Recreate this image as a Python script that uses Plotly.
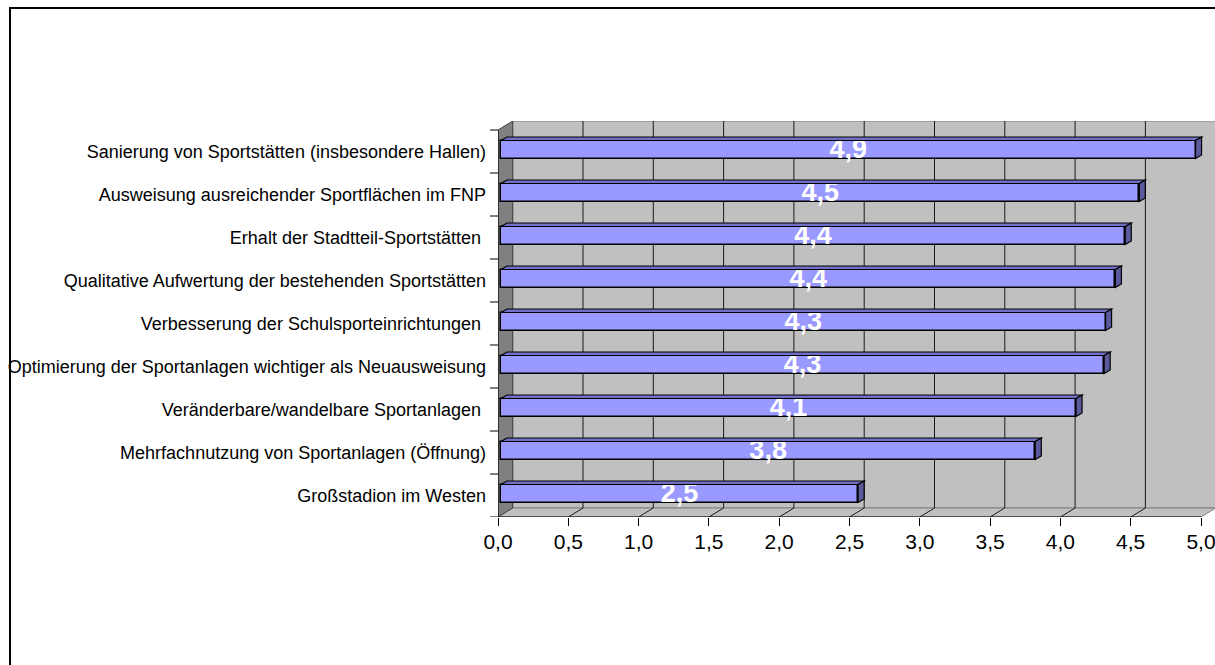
import plotly.graph_objects as go

# ---- data (top to bottom as displayed) ----
categories = [
    "Sanierung von Sportstätten (insbesondere Hallen)",
    "Ausweisung ausreichender Sportflächen im FNP",
    "Erhalt der Stadtteil-Sportstätten\u00a0",
    "Qualitative Aufwertung der bestehenden Sportstätten",
    "Verbesserung der Schulsporteinrichtungen\u00a0",
    "Optimierung der Sportanlagen wichtiger als Neuausweisung",
    "Veränderbare/wandelbare Sportanlagen\u00a0",
    "Mehrfachnutzung von Sportanlagen (Öffnung)",
    "Großstadion im Westen",
]
scores = [4.94, 4.54, 4.44, 4.37, 4.30, 4.29, 4.09, 3.80, 2.54]
x_tick_values = [0.0, 0.5, 1.0, 1.5, 2.0, 2.5, 3.0, 3.5, 4.0, 4.5, 5.0]
x_max_value = 5.0

FONT = "Liberation Sans, Arial, sans-serif"


def de_num(v):
    return f"{v:.1f}".replace(".", ",")


# ---- geometry of the pseudo-3D frame (pixels) ----
W, H = 1215, 665
LEFT, TOP, BOTTOM = 498, 121, 517
PX_PER_UNIT = 140.6
SLOT_PX = 43.0
n = len(categories)

x_range = [0, (W - LEFT) / PX_PER_UNIT]
y_lo = -0.5
y_range = [y_lo, y_lo + (BOTTOM - TOP) / SLOT_PX]
y_hi_front = n - 0.5

dx = 14.7 / PX_PER_UNIT          # depth of the frame, x units
dy = 9.0 / SLOT_PX               # depth of the frame, y units
bar_base = 3.0 / PX_PER_UNIT     # bars sit slightly behind the front plane
bar_h = 18.0 / SLOT_PX
bar_shift = 2.0 / SLOT_PX
bdx = 6.0 / PX_PER_UNIT          # bar depth
bdy = 3.5 / SLOT_PX
label_drop = 2.0 / SLOT_PX       # value labels sit a touch below bar centre

positions = [n - 1 - i for i in range(n)]
bar_centers = [p + bar_shift for p in positions]


def fx(px):
    """pixel column -> paper fraction (paper spans the whole figure)"""
    return px / W


def fy(py):
    """pixel row -> paper fraction"""
    return 1 - py / H


def poly(points):
    return "M " + " L ".join(f"{x},{y}" for x, y in points) + " Z"


shapes = []
# back wall
shapes.append(dict(type="rect", xref="x", yref="y", layer="below",
                   x0=dx, x1=x_max_value + dx, y0=y_lo + dy, y1=y_hi_front + dy,
                   fillcolor="#c0c0c0", line=dict(color="#808080", width=1)))
# floor
shapes.append(dict(type="path", xref="x", yref="y", layer="below",
                   path=poly([(0, y_lo), (x_max_value, y_lo),
                              (x_max_value + dx, y_lo + dy), (dx, y_lo + dy)]),
                   fillcolor="#c0c0c0", line=dict(color="#808080", width=1)))
# left side wall
shapes.append(dict(type="path", xref="x", yref="y", layer="below",
                   path=poly([(0, y_lo), (dx, y_lo + dy),
                              (dx, y_hi_front + dy), (0, y_hi_front)]),
                   fillcolor="#808080", line=dict(color="#404040", width=1)))
# gridlines on back wall and floor
for v in x_tick_values[1:-1]:
    shapes.append(dict(type="line", xref="x", yref="y", layer="below",
                       x0=v + dx, x1=v + dx, y0=y_lo + dy, y1=y_hi_front + dy,
                       line=dict(color="#1a1a1a", width=1)))
    shapes.append(dict(type="line", xref="x", yref="y", layer="below",
                       x0=v, x1=v + dx, y0=y_lo, y1=y_lo + dy,
                       line=dict(color="#1a1a1a", width=1)))
# front axis lines
shapes.append(dict(type="line", xref="x", yref="y", layer="below",
                   x0=0, x1=x_max_value, y0=y_lo, y1=y_lo,
                   line=dict(color="black", width=1)))
shapes.append(dict(type="line", xref="x", yref="y", layer="below",
                   x0=0, x1=0, y0=y_lo, y1=y_hi_front,
                   line=dict(color="black", width=1)))
# category boundary ticks on the left axis
for k in range(n + 1):
    yb = y_lo + k
    shapes.append(dict(type="line", xref="paper", yref="y",
                       x0=fx(LEFT - 8), x1=fx(LEFT), y0=yb, y1=yb,
                       line=dict(color="black", width=1)))

# 3D top and end faces of each bar
for v, yc in zip(scores, bar_centers):
    y0, y1 = yc - bar_h / 2, yc + bar_h / 2
    x0, x1 = bar_base, bar_base + v
    shapes.append(dict(type="path", xref="x", yref="y", layer="above",
                       path=poly([(x0, y1), (x1, y1), (x1 + bdx, y1 + bdy), (x0 + bdx, y1 + bdy)]),
                       fillcolor="#7070c4", line=dict(color="black", width=1.2)))
    shapes.append(dict(type="path", xref="x", yref="y", layer="above",
                       path=poly([(x1, y0), (x1 + bdx, y0 + bdy), (x1 + bdx, y1 + bdy), (x1, y1)]),
                       fillcolor="#5a5a9c", line=dict(color="black", width=1.2)))

fig = go.Figure()
fig.add_trace(go.Bar(
    orientation="h",
    x=scores,
    y=bar_centers,
    base=bar_base,
    width=bar_h,
    marker=dict(color="#9999ff", line=dict(color="black", width=1.5)),
    hoverinfo="skip",
))
fig.add_trace(go.Scatter(
    mode="text",
    x=[bar_base + v / 2 for v in scores],
    y=[c - label_drop for c in bar_centers],
    text=[f"<b>{de_num(v)}</b>" for v in scores],
    textposition="middle center",
    textfont=dict(family=FONT, size=27, color="white"),
    cliponaxis=False,
    hoverinfo="skip",
))
# empty companion subplot whose axis lines form the chart-area border
fig.add_trace(go.Scatter(x=[], y=[], xaxis="x2", yaxis="y2",
                         mode="markers", hoverinfo="skip"))

fig.update_layout(
    template="none",
    width=W, height=H,
    margin=dict(l=0, r=0, t=0, b=0, pad=0),
    paper_bgcolor="white",
    plot_bgcolor="rgba(0,0,0,0)",
    showlegend=False,
    bargap=0,
    font=dict(family=FONT, color="black"),
    shapes=shapes,
    xaxis=dict(
        domain=[fx(LEFT), 1], anchor="y",
        range=x_range, automargin=False, fixedrange=True,
        tickmode="array", tickvals=x_tick_values,
        ticktext=[de_num(v) for v in x_tick_values],
        ticks="outside", ticklen=8, tickwidth=1, tickcolor="black",
        ticklabeloverflow="allow", ticklabelstandoff=-2,
        tickfont=dict(family=FONT, size=21, color="black"),
        showgrid=False, zeroline=False, showline=False,
    ),
    yaxis=dict(
        domain=[fy(BOTTOM), fy(TOP)], anchor="x",
        range=y_range, automargin=False, fixedrange=True,
        tickmode="array", tickvals=positions, ticktext=categories,
        ticks="", ticklabelstandoff=11,
        tickfont=dict(family=FONT, size=18, color="black"),
        showgrid=False, zeroline=False, showline=False,
    ),
    xaxis2=dict(
        domain=[fx(11), 1], anchor="y2", side="top",
        range=[0, 1], fixedrange=True, automargin=False,
        showline=True, linecolor="black", linewidth=2,
        showticklabels=False, ticks="", showgrid=False, zeroline=False,
    ),
    yaxis2=dict(
        domain=[0, fy(9)], anchor="x2", side="left",
        range=[0, 1], fixedrange=True, automargin=False,
        showline=True, linecolor="black", linewidth=2,
        showticklabels=False, ticks="", showgrid=False, zeroline=False,
    ),
)

fig.write_html("out.html")
